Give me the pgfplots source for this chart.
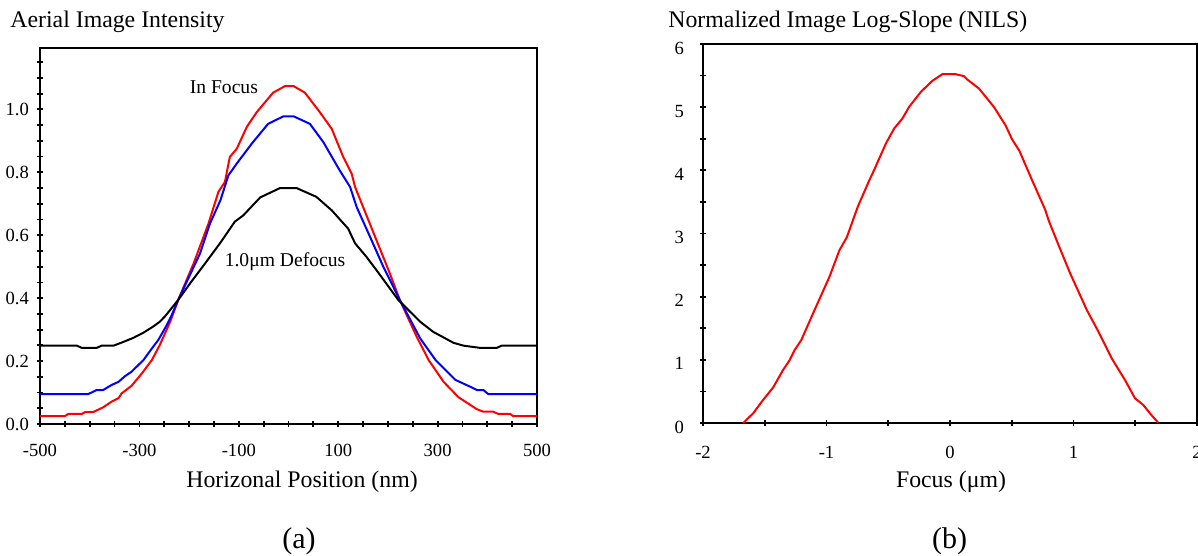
\documentclass[border=0pt]{standalone}
\usepackage{fontspec}
\setmainfont{Liberation Serif}
\usepackage{pgfplots}
\pgfplotsset{compat=1.18}

\pgfplotsset{
  figax/.style={
    scale only axis,
    axis line style={line width=1.2pt},
    tick pos=left,
    tick align=center,
    major tick length=3pt,
    every tick/.style={black, line width=0.9pt},
    tick label style={font=\fontsize{9.3}{11}\selectfont},
    clip=false,
  },
}

\begin{document}
\begin{tikzpicture}
  \useasboundingbox (0,0) rectangle (599pt,278pt);

  % (a) aerial image intensity
  \begin{axis}[
    figax,
    at={(20pt,66pt)}, anchor=south west,
    width=248.5pt, height=188pt,
    xmin=-500, xmax=500,
    ymin=0, ymax=1.195,
    xtick={-500,-450,...,500},
    xticklabels={-500,,,,-300,,,,-100,,,,100,,,,300,,,,500},
    ytick={0,0.05,0.1,0.15,0.2,0.25,0.3,0.35,0.4,0.45,0.5,0.55,0.6,0.65,0.7,0.75,0.8,0.85,0.9,0.95,1.0,1.05,1.1,1.15},
    yticklabels={0.0,,,,0.2,,,,0.4,,,,0.6,,,,0.8,,,,1.0,,,},
    xticklabel style={yshift=-5pt},
    yticklabel style={xshift=-0.5pt},
  ]
    \addplot[red, line width=1pt] coordinates {
      (-500,0.025) (-450,0.025) (-443,0.032) (-416,0.032) (-409,0.038) (-393,0.038)
      (-373,0.053) (-356,0.071) (-342,0.082) (-336,0.097) (-316,0.121) (-295,0.161)
      (-275,0.203) (-259,0.251) (-238,0.325) (-222,0.394) (-191,0.510) (-161,0.637)
      (-141,0.738) (-128,0.769) (-118,0.849) (-104,0.875) (-84,0.944) (-64,0.991)
      (-31,1.053) (-7,1.074) (10,1.074) (33,1.053) (63,0.991) (87,0.938) (110,0.849)
      (127,0.796) (134,0.753) (150,0.690) (177,0.584) (204,0.478) (224,0.394)
      (258,0.277) (282,0.203) (312,0.134) (342,0.085) (379,0.047) (392,0.039)
      (412,0.039) (422,0.032) (446,0.032) (452,0.025) (500,0.025)
    };
    \addplot[blue, line width=1pt] coordinates {
      (-500,0.095) (-403,0.095) (-386,0.108) (-373,0.108) (-356,0.124) (-342,0.134)
      (-329,0.152) (-316,0.166) (-292,0.203) (-275,0.240) (-262,0.267) (-245,0.314)
      (-235,0.346) (-222,0.394) (-178,0.542) (-158,0.637) (-137,0.711) (-121,0.790)
      (-104,0.828) (-74,0.891) (-41,0.954) (-10,0.978) (10,0.978) (43,0.954)
      (70,0.896) (103,0.806) (124,0.753) (137,0.690) (164,0.595) (191,0.499)
      (224,0.394) (265,0.272) (296,0.203) (336,0.140) (369,0.116) (379,0.108)
      (392,0.108) (402,0.095) (500,0.095)
    };
    \addplot[black, line width=1pt] coordinates {
      (-500,0.249) (-426,0.249) (-416,0.242) (-386,0.242) (-376,0.249) (-352,0.249)
      (-332,0.261) (-312,0.274) (-292,0.290) (-271,0.311) (-259,0.325) (-248,0.343)
      (-222,0.394) (-198,0.447) (-168,0.510) (-138,0.574) (-108,0.643) (-91,0.663)
      (-57,0.720) (-17,0.750) (16,0.750) (56,0.722) (87,0.679) (120,0.621)
      (134,0.574) (157,0.531) (177,0.489) (221,0.394) (265,0.325) (291,0.293)
      (332,0.258) (352,0.249) (385,0.242) (419,0.242) (429,0.249) (500,0.249)
    };
    \node[font=\fontsize{9.8}{11}\selectfont] at (axis cs:-130,1.07) {In Focus};
    \node[font=\fontsize{9.8}{11}\selectfont] at (axis cs:-7,0.516) {1.0μm Defocus};
  \end{axis}

  % (b) NILS versus focus
  \begin{axis}[
    figax,
    at={(351.5pt,66.5pt)}, anchor=south west,
    width=247pt, height=189.5pt,
    xmin=-2, xmax=2,
    ymin=0, ymax=6,
    xtick={-2,-1.5,...,2},
    xticklabels={-2,,-1,,0,,1,,2},
    ytick={0,0.5,...,6},
    yticklabels={0,,1,,2,,3,,4,,5,,6},
    xticklabel style={yshift=-6.5pt},
    yticklabel style={xshift=-4.5pt, yshift=-2pt},
  ]
    \addplot[red, line width=1pt] coordinates {
      (-1.675,0) (-1.594,0.153) (-1.514,0.364) (-1.433,0.56) (-1.352,0.839)
      (-1.298,0.997) (-1.258,1.155) (-1.204,1.313) (-1.097,1.788) (-0.976,2.315)
      (-0.895,2.737) (-0.836,2.938) (-0.747,3.423) (-0.653,3.845) (-0.627,3.951)
      (-0.519,4.425) (-0.452,4.663) (-0.385,4.821) (-0.331,5.005) (-0.236,5.242)
      (-0.143,5.417) (-0.062,5.522) (0.046,5.522) (0.113,5.491) (0.140,5.438)
      (0.234,5.296) (0.355,5.005) (0.449,4.715) (0.503,4.489) (0.562,4.309)
      (0.664,3.845) (0.772,3.370) (0.798,3.212) (0.879,2.816) (0.973,2.368)
      (1.108,1.788) (1.202,1.445) (1.309,1.024) (1.417,0.680) (1.498,0.391)
      (1.565,0.285) (1.619,0.153) (1.685,0.005)
    };
  \end{axis}

  % titles and labels
  \node[anchor=base west, font=\fontsize{11.9}{14}\selectfont, inner sep=0pt] at (5pt,264pt) {Aerial Image Intensity};
  \node[anchor=base west, font=\fontsize{11.9}{14}\selectfont, inner sep=0pt] at (334pt,264pt) {Normalized Image Log-Slope (NILS)};
  \node[anchor=base, font=\fontsize{11.9}{14}\selectfont, inner sep=0pt] at (151pt,34pt) {Horizonal Position (nm)};
  \node[anchor=base, font=\fontsize{11.9}{14}\selectfont, inner sep=0pt] at (475.5pt,34pt) {Focus (μm)};
  \node[anchor=base, font=\fontsize{15}{17}\selectfont, inner sep=0pt] at (149.5pt,3.5pt) {(a)};
  \node[anchor=base, font=\fontsize{15}{17}\selectfont, inner sep=0pt] at (474.75pt,3.5pt) {(b)};
\end{tikzpicture}
\end{document}
